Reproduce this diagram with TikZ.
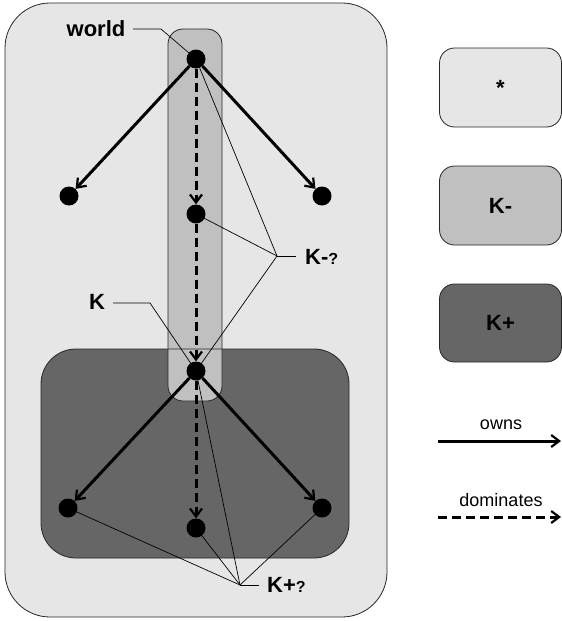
\documentclass[tikz,border=0pt]{standalone}
\usepackage{fontspec}
\setmainfont{Liberation Sans}
\usetikzlibrary{arrows.meta}
\definecolor{cLight}{HTML}{E6E6E6}
\definecolor{cMid}{HTML}{C0C0C0}
\definecolor{cDark}{HTML}{666666}
\begin{document}
\begin{tikzpicture}[x=1pt,y=-1pt,
  dot/.style={circle,fill=black,inner sep=0pt,minimum size=19pt},
  owns/.style={line width=3pt,-{Straight Barb[length=8pt,width=12pt,line width=2.2pt]}},
  domin/.style={owns,dash pattern=on 9pt off 5pt},
  leader/.style={line width=0.7pt},
  big/.style={font=\fontsize{22}{25}\selectfont\bfseries,inner sep=0pt},
  small/.style={font=\fontsize{18}{21}\selectfont,inner sep=0pt},
  region/.style={draw=black!85,line width=0.8pt}]
\useasboundingbox (0,0) rectangle (562,621);
% outer region
\draw[region,fill=cLight,rounded corners=45pt] (5,3) rectangle (387,617);
% K+ region fill
\fill[cDark,rounded corners=35pt] (41,349) rectangle (349,558);
% K- column
\draw[region,fill=cMid,rounded corners=15pt] (168,29) rectangle (222,401);
% K+ region border on top
\draw[region,rounded corners=35pt] (41,349) rectangle (349,558);
% legend boxes
\node[region,fill=cLight,rounded corners=15pt,minimum width=122pt,minimum height=79pt] (l1) at (500.5,87.5) {};
\node[big] at (l1) {*};
\node[region,fill=cMid,rounded corners=15pt,minimum width=122pt,minimum height=79pt] (l2) at (500.5,205.5) {};
\node[big] at (l2) {K-};
\node[region,fill=cDark,rounded corners=15pt,minimum width=122pt,minimum height=78pt] (l3) at (500.5,323) {};
\node[big] at (l3) {K+};
% legend arrows
\coordinate (o1) at (438,441);
\coordinate (o2) at (561,441);
\draw[owns] (o1) -- (o2);
\node[small] (ot) at (501,425) {owns};
\coordinate (d1) at (438,517);
\coordinate (d2) at (561,517);
\draw[domin] (d1) -- (d2);
\node[small] (dt) at (501,500) {dominates};
% dots
\node[dot] (w) at (196,59) {};
\node[dot] (a) at (69,196) {};
\node[dot] (b) at (322,196) {};
\node[dot] (m) at (196,214) {};
\node[dot] (k) at (196,371) {};
\node[dot] (c) at (68,508) {};
\node[dot] (d) at (196,528) {};
\node[dot] (e) at (322,508) {};
% leader lines
\node[big] (wl) at (96,29) {world};
\coordinate (wl0) at (133,29);
\coordinate (wl1) at (161,29);
\draw[leader] (wl0) -- (wl1) -- (w.center);
\node[big,anchor=west] (kml) at (305,257) {K-{\fontsize{16}{18}\selectfont ?}};
\coordinate (q) at (277,256);
\coordinate (q1) at (296,256);
\draw[leader] (q1) -- (q);
\draw[leader] (w.center) -- (q);
\draw[leader] (m.center) -- (q);
\draw[leader] (k.center) -- (q);
\node[big] (kl) at (97,302) {K};
\coordinate (kl0) at (113,303);
\coordinate (kl1) at (150,303);
\draw[leader] (kl0) -- (kl1) -- (k.center);
\node[big,anchor=west] (kpl) at (267,585) {K+{\fontsize{16}{18}\selectfont ?}};
\coordinate (p) at (240,585);
\coordinate (p1) at (259,585);
\draw[leader] (p1) -- (p);
\draw[leader] (c.center) -- (p);
\draw[leader] (d.center) -- (p);
\draw[leader] (e.center) -- (p);
\draw[leader] (k.center) -- (p);
% arrows
\draw[owns] (w) -- (a);
\draw[owns] (w) -- (b);
\draw[domin] (w) -- (m);
\draw[domin] (m) -- (k);
\draw[owns] (k) -- (c);
\draw[owns] (k) -- (e);
\draw[domin] (k) -- (d);
\end{tikzpicture}
\end{document}
